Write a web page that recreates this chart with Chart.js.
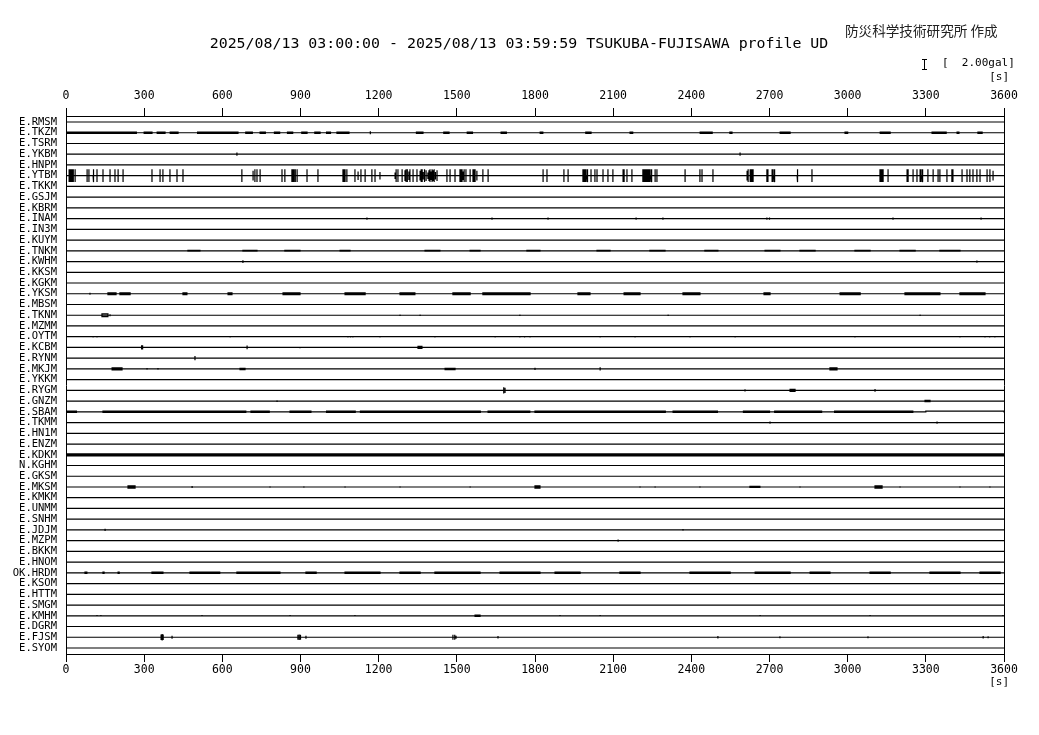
<!DOCTYPE html>
<html>
<head>
<meta charset="utf-8">
<script src="https://cdn.jsdelivr.net/npm/chart.js@4.4.1/dist/chart.umd.min.js"></script>
<style>
html, body { margin: 0; padding: 0; background: #fff; }
</style>
</head>
<body>
<canvas id="chart" width="1039" height="735"></canvas>
<script>
// station order, top to bottom
const stations = [
    "E.RMSM", "E.TKZM", "E.TSRM", "E.YKBM", "E.HNPM", "E.YTBM", "E.TKKM", "E.GSJM", "E.KBRM", "E.INAM",
    "E.IN3M", "E.KUYM", "E.TNKM", "E.KWHM", "E.KKSM", "E.KGKM", "E.YKSM", "E.MBSM", "E.TKNM", "E.MZMM",
    "E.OYTM", "E.KCBM", "E.RYNM", "E.MKJM", "E.YKKM", "E.RYGM", "E.GNZM", "E.SBAM", "E.TKMM", "E.HN1M",
    "E.ENZM", "E.KDKM", "N.KGHM", "E.GKSM", "E.MKSM", "E.KMKM", "E.UNMM", "E.SNHM", "E.JDJM", "E.MZPM",
    "E.BKKM", "E.HNOM", "OK.HRDM", "E.KSOM", "E.HTTM", "E.SMGM", "E.KMHM", "E.DGRM", "E.FJSM", "E.SYOM",
];

const timeRange = [0, 3600];
const timeTicks = [0, 300, 600, 900, 1200, 1500, 1800, 2100, 2400, 2700, 3000, 3300, 3600];
const scaleGal = 2.0;

// E.YTBM clipped wave packets: [time s, amplitude gal]
const ytbmSpikes = [
    [12, 1.2], [16, 1.2], [20, 1.2], [24, 1.2], [28, 1.2], [35, 1.2],
    [81, 1.2], [88, 1.2], [104, 1.2], [107, 1.2], [119, 1.2], [142, 1.2], [169, 1.2], [188, 1.2], [200, 1.2], [219, 1.2],
    [330, 1.2], [361, 1.2], [372, 1.2], [399, 1.2], [426, 1.2], [449, 1.2],
    [675, 1.2], [718, 0.9], [725, 1.2], [733, 1.2], [745, 1.2], [829, 1.2], [840, 1.2],
    [867, 1.2], [871, 1.2], [875, 1.2], [880, 1.2], [887, 1.2], [925, 1.2], [967, 1.2],
    [1063, 1.2], [1067, 1.2], [1071, 1.2], [1078, 1.2], [1109, 1.2], [1121, 0.8], [1132, 1.2], [1148, 1.2],
    [1174, 1.2], [1186, 1.2], [1205, 0.7],
    [1263, 0.6], [1267, 1.2], [1274, 1.2], [1290, 1.2], [1301, 1.0], [1305, 1.2], [1310, 1.2], [1316, 0.8],
    [1320, 1.2], [1332, 1.2], [1347, 1.2], [1359, 0.9], [1363, 1.2], [1367, 1.2], [1371, 0.7], [1376, 1.2],
    [1382, 1.0], [1389, 0.6], [1393, 1.0], [1397, 1.2], [1401, 0.8], [1405, 1.2], [1409, 1.0], [1413, 1.2],
    [1418, 0.7], [1424, 1.0],
    [1462, 1.2], [1474, 1.2], [1493, 1.2], [1512, 1.2], [1516, 1.2], [1520, 1.2], [1524, 0.8], [1528, 1.2],
    [1535, 1.2], [1551, 1.2], [1562, 1.2], [1566, 1.2], [1570, 1.2], [1577, 0.9], [1600, 1.2], [1620, 1.2],
    [1831, 1.2], [1846, 1.2], [1911, 1.2], [1927, 1.2],
    [1984, 1.2], [1988, 1.2], [1992, 1.2], [1996, 1.2], [2000, 1.2], [2003, 1.2],
    [2015, 1.2], [2030, 1.2], [2038, 1.2], [2061, 1.2], [2080, 1.2], [2099, 1.2],
    [2138, 1.2], [2142, 1.2], [2153, 1.2], [2172, 1.2],
    [2214, 1.2], [2218, 1.2], [2222, 1.2], [2226, 1.2], [2230, 1.2], [2234, 1.2], [2238, 1.2], [2242, 1.2],
    [2246, 1.2], [2249, 1.2], [2261, 1.2], [2268, 1.2],
    [2376, 1.2], [2433, 1.2], [2441, 1.2], [2483, 1.2],
    [2614, 0.9], [2618, 1.2], [2626, 1.2], [2630, 1.2], [2634, 1.2], [2637, 1.2],
    [2690, 1.2], [2694, 1.2], [2710, 1.2], [2714, 1.2], [2718, 1.2], [2721, 1.2],
    [2806, 1.2], [2809, 1.2], [2863, 1.2],
    [3124, 1.2], [3128, 1.2], [3132, 1.2], [3136, 1.2], [3155, 1.2],
    [3228, 1.2], [3232, 1.2], [3251, 1.2], [3266, 1.2], [3278, 1.2], [3282, 1.2], [3286, 1.2], [3289, 1.2],
    [3308, 1.2], [3328, 1.2], [3347, 1.2], [3354, 1.2], [3381, 1.2], [3400, 1.2], [3404, 1.2],
    [3439, 1.2], [3458, 1.2], [3469, 1.2], [3481, 1.2], [3496, 1.2], [3508, 1.2], [3535, 1.2], [3546, 1.2], [3558, 0.9],
];

// single short pulses on other stations: [station, time s, amplitude gal]
const pulses = [
    ["E.TKZM", 1168, 0.3],
    ["E.YKBM", 656, 0.3], ["E.YKBM", 2587, 0.3],
    ["E.INAM", 1155, 0.2], ["E.INAM", 1635, 0.2], ["E.INAM", 1850, 0.2], ["E.INAM", 2188, 0.2], ["E.INAM", 2291, 0.2],
    ["E.INAM", 2690, 0.2], ["E.INAM", 2700, 0.2], ["E.INAM", 3174, 0.2], ["E.INAM", 3512, 0.2],
    ["E.KWHM", 679, 0.25], ["E.KWHM", 3496, 0.2],
    ["E.YKSM", 92, 0.2],
    ["E.TKNM", 169, 0.2], ["E.TKNM", 1282, 0.15], ["E.TKNM", 1359, 0.15], ["E.TKNM", 1742, 0.15],
    ["E.TKNM", 2311, 0.15], ["E.TKNM", 3278, 0.15],
    ["E.OYTM", 104, 0.15], ["E.OYTM", 119, 0.15], ["E.OYTM", 630, 0.15], ["E.OYTM", 1082, 0.15], ["E.OYTM", 1092, 0.15],
    ["E.OYTM", 1101, 0.15], ["E.OYTM", 1205, 0.15], ["E.OYTM", 1416, 0.15], ["E.OYTM", 1647, 0.15], ["E.OYTM", 1742, 0.15],
    ["E.OYTM", 1760, 0.15], ["E.OYTM", 1781, 0.15], ["E.OYTM", 2050, 0.15], ["E.OYTM", 2184, 0.15], ["E.OYTM", 2395, 0.15],
    ["E.OYTM", 2568, 0.15], ["E.OYTM", 3028, 0.15], ["E.OYTM", 3431, 0.15], ["E.OYTM", 3527, 0.15], ["E.OYTM", 3545, 0.15],
    ["E.OYTM", 3565, 0.15],
    ["E.KCBM", 290, 0.4], ["E.KCBM", 294, 0.4], ["E.KCBM", 695, 0.35], ["E.KCBM", 898, 0.15], ["E.KCBM", 1524, 0.12],
    ["E.KCBM", 1838, 0.12], ["E.KCBM", 2050, 0.12], ["E.KCBM", 2433, 0.12], ["E.KCBM", 2836, 0.12], ["E.KCBM", 3009, 0.12],
    ["E.RYNM", 495, 0.4], ["E.RYNM", 975, 0.12], ["E.RYNM", 1524, 0.12], ["E.RYNM", 2050, 0.12], ["E.RYNM", 2422, 0.12],
    ["E.MKJM", 311, 0.15], ["E.MKJM", 353, 0.15], ["E.MKJM", 898, 0.12], ["E.MKJM", 917, 0.12], ["E.MKJM", 1052, 0.12],
    ["E.MKJM", 1359, 0.12], ["E.MKJM", 1551, 0.12], ["E.MKJM", 1800, 0.2], ["E.MKJM", 2050, 0.3], ["E.MKJM", 2433, 0.12],
    ["E.MKJM", 2625, 0.12], ["E.MKJM", 2740, 0.12], ["E.MKJM", 3163, 0.12], ["E.MKJM", 3393, 0.12], ["E.MKJM", 3546, 0.12],
    ["E.RYGM", 1680, 0.6], ["E.RYGM", 1685, 0.5], ["E.RYGM", 2606, 0.2], ["E.RYGM", 3105, 0.25],
    ["E.GNZM", 810, 0.15],
    ["E.TKMM", 2702, 0.2], ["E.TKMM", 3343, 0.2],
    ["E.MKSM", 484, 0.2], ["E.MKSM", 783, 0.15], ["E.MKSM", 913, 0.15], ["E.MKSM", 1071, 0.15], ["E.MKSM", 1282, 0.15],
    ["E.MKSM", 1551, 0.15], ["E.MKSM", 2203, 0.15], ["E.MKSM", 2261, 0.15], ["E.MKSM", 2433, 0.15], ["E.MKSM", 2817, 0.15],
    ["E.MKSM", 3201, 0.15], ["E.MKSM", 3431, 0.15], ["E.MKSM", 3546, 0.15],
    ["E.JDJM", 150, 0.2], ["E.JDJM", 2368, 0.15],
    ["E.MZPM", 2119, 0.2],
    ["E.HNOM", 1052, 0.12],
    ["E.KMHM", 119, 0.15], ["E.KMHM", 134, 0.15], ["E.KMHM", 522, 0.15], ["E.KMHM", 860, 0.15], ["E.KMHM", 1109, 0.15],
    ["E.KMHM", 1896, 0.15], ["E.KMHM", 2050, 0.15], ["E.KMHM", 2664, 0.15], ["E.KMHM", 3086, 0.15], ["E.KMHM", 3596, 0.15],
    ["E.FJSM", 365, 0.5], ["E.FJSM", 369, 0.6], ["E.FJSM", 373, 0.5], ["E.FJSM", 407, 0.3],
    ["E.FJSM", 890, 0.45], ["E.FJSM", 895, 0.5], ["E.FJSM", 900, 0.45], ["E.FJSM", 921, 0.3],
    ["E.FJSM", 1485, 0.45], ["E.FJSM", 1492, 0.45], ["E.FJSM", 1497, 0.3], ["E.FJSM", 1658, 0.25],
    ["E.FJSM", 2502, 0.25], ["E.FJSM", 2740, 0.2], ["E.FJSM", 3078, 0.2], ["E.FJSM", 3520, 0.25], ["E.FJSM", 3539, 0.2],
];

// stretches of continuous small noise: [station, start s, end s, amplitude gal]
const noise = [
    ["E.TKZM", 0, 270, 0.12], ["E.TKZM", 300, 330, 0.12], ["E.TKZM", 350, 380, 0.12], ["E.TKZM", 400, 430, 0.12],
    ["E.TKZM", 505, 660, 0.12], ["E.TKZM", 690, 715, 0.12], ["E.TKZM", 745, 765, 0.12], ["E.TKZM", 800, 820, 0.12],
    ["E.TKZM", 850, 870, 0.12], ["E.TKZM", 905, 925, 0.12], ["E.TKZM", 955, 975, 0.12], ["E.TKZM", 1000, 1015, 0.12],
    ["E.TKZM", 1040, 1086, 0.12], ["E.TKZM", 1345, 1370, 0.12], ["E.TKZM", 1450, 1470, 0.12], ["E.TKZM", 1540, 1560, 0.12],
    ["E.TKZM", 1670, 1690, 0.12], ["E.TKZM", 1820, 1830, 0.12], ["E.TKZM", 1995, 2015, 0.12], ["E.TKZM", 2165, 2175, 0.12],
    ["E.TKZM", 2434, 2480, 0.12], ["E.TKZM", 2548, 2556, 0.12], ["E.TKZM", 2741, 2779, 0.12], ["E.TKZM", 2990, 3000, 0.12],
    ["E.TKZM", 3125, 3163, 0.12], ["E.TKZM", 3324, 3378, 0.12], ["E.TKZM", 3420, 3427, 0.12], ["E.TKZM", 3500, 3516, 0.12],
    ["E.TNKM", 468, 514, 0.08], ["E.TNKM", 679, 733, 0.08], ["E.TNKM", 840, 898, 0.08], ["E.TNKM", 1052, 1090, 0.08],
    ["E.TNKM", 1378, 1435, 0.08], ["E.TNKM", 1551, 1589, 0.08], ["E.TNKM", 1769, 1819, 0.08], ["E.TNKM", 2038, 2088, 0.08],
    ["E.TNKM", 2241, 2299, 0.08], ["E.TNKM", 2452, 2502, 0.08], ["E.TNKM", 2683, 2740, 0.08], ["E.TNKM", 2817, 2875, 0.08],
    ["E.TNKM", 3028, 3086, 0.08], ["E.TNKM", 3201, 3259, 0.08], ["E.TNKM", 3354, 3431, 0.08],
    ["E.YKSM", 161, 192, 0.15], ["E.YKSM", 207, 246, 0.15], ["E.YKSM", 449, 464, 0.15], ["E.YKSM", 622, 637, 0.15],
    ["E.YKSM", 833, 898, 0.15], ["E.YKSM", 1071, 1148, 0.15], ["E.YKSM", 1282, 1339, 0.15], ["E.YKSM", 1485, 1551, 0.15],
    ["E.YKSM", 1600, 1781, 0.15], ["E.YKSM", 1965, 2011, 0.15], ["E.YKSM", 2142, 2203, 0.15], ["E.YKSM", 2368, 2433, 0.15],
    ["E.YKSM", 2679, 2702, 0.15], ["E.YKSM", 2971, 3048, 0.15], ["E.YKSM", 3220, 3354, 0.15], ["E.YKSM", 3431, 3527, 0.15],
    ["E.TKNM", 138, 161, 0.25],
    ["E.KCBM", 1351, 1366, 0.2],
    ["E.MKJM", 177, 215, 0.2], ["E.MKJM", 668, 687, 0.12], ["E.MKJM", 1455, 1493, 0.12], ["E.MKJM", 2932, 2959, 0.2],
    ["E.RYGM", 2779, 2798, 0.2],
    ["E.GNZM", 3297, 3316, 0.12],
    ["E.SBAM", 0, 40, 0.12], ["E.SBAM", 142, 690, 0.12], ["E.SBAM", 710, 780, 0.12], ["E.SBAM", 860, 940, 0.12],
    ["E.SBAM", 1000, 1110, 0.12], ["E.SBAM", 1130, 1590, 0.12], ["E.SBAM", 1620, 1780, 0.12], ["E.SBAM", 1800, 2300, 0.12],
    ["E.SBAM", 2330, 2500, 0.12], ["E.SBAM", 2600, 2700, 0.12], ["E.SBAM", 2720, 2900, 0.12], ["E.SBAM", 2950, 3250, 0.12],
    ["E.SBAM", 3300, 3600, 0.12],
    ["E.KDKM", 0, 3600, 0.19],
    ["E.MKSM", 238, 265, 0.2], ["E.MKSM", 1800, 1819, 0.2], ["E.MKSM", 2625, 2663, 0.1], ["E.MKSM", 3105, 3132, 0.2],
    ["OK.HRDM", 73, 80, 0.12], ["OK.HRDM", 142, 146, 0.12], ["OK.HRDM", 200, 204, 0.12], ["OK.HRDM", 330, 372, 0.12],
    ["OK.HRDM", 476, 590, 0.12], ["OK.HRDM", 656, 821, 0.12], ["OK.HRDM", 921, 960, 0.12], ["OK.HRDM", 1071, 1205, 0.12],
    ["OK.HRDM", 1282, 1359, 0.12], ["OK.HRDM", 1416, 1589, 0.12], ["OK.HRDM", 1666, 1819, 0.12], ["OK.HRDM", 1877, 1973, 0.12],
    ["OK.HRDM", 2126, 2203, 0.12], ["OK.HRDM", 2395, 2549, 0.12], ["OK.HRDM", 2645, 2779, 0.12], ["OK.HRDM", 2856, 2932, 0.12],
    ["OK.HRDM", 3086, 3163, 0.12], ["OK.HRDM", 3316, 3431, 0.12], ["OK.HRDM", 3508, 3585, 0.12],
    ["E.KMHM", 1570, 1589, 0.12],
];

const MONO = '"DejaVu Sans Mono", "Liberation Mono", monospace';

// one trace per station; the row index is the baseline, gal is scaled so scaleGal == one row
function buildTrace(name, row) {
    const events = [];
    pulses.filter(p => p[0] === name).forEach(p => events.push([p[1], p[1], p[2]]));
    noise.filter(n => n[0] === name).forEach(n => events.push([n[1], n[2], n[3]]));
    if(name === "E.YTBM") {
        ytbmSpikes.forEach(s => events.push([s[0], s[0], s[1]]));
    }
    events.sort((a, b) => a[0] - b[0]);

    const off = g => g / scaleGal;
    const pts = [{ x: timeRange[0], y: row }];
    for(let i = 0; i < events.length; i++) {
        const [t0, t1, a] = events[i];
        pts.push(
            { x: t0, y: row },
            { x: t0, y: row - off(a) },
            { x: t1, y: row - off(a) },
            { x: t1, y: row + off(a) },
            { x: t0, y: row + off(a) },
            { x: t0, y: row },
        );
    }
    pts.push({ x: timeRange[1], y: row });
    return pts;
}

const datasets = stations.map((name, i) => ({
    label: name,
    data: buildTrace(name, i),
    borderColor: "#000",
    borderWidth: 1.2,
    pointRadius: 0,
    tension: 0,
    fill: false,
}));

const header = {
    id: "header",
    afterDraw(chart) {
        const { ctx } = chart;
        ctx.save();

        ctx.font = "13.6px \"Noto Sans CJK JP\"";
        ctx.textAlign = "left";
        ctx.textBaseline = "middle";
        ctx.fillStyle = "#222";
        ctx.fillText("防災科学技術研究所 作成", 845, 31);

        ctx.fillStyle = "#000";
        ctx.font = "14.9px " + MONO;
        ctx.textAlign = "center";
        ctx.fillText("2025/08/13 03:00:00 - 2025/08/13 03:59:59 TSUKUBA-FUJISAWA profile UD", 519, 44);

        // amplitude scale bar
        ctx.strokeStyle = "#000";
        ctx.lineWidth = 1;
        ctx.beginPath();
        ctx.moveTo(924.5, 59); ctx.lineTo(924.5, 70);
        ctx.moveTo(922, 59.5); ctx.lineTo(927, 59.5);
        ctx.moveTo(922, 69.5); ctx.lineTo(927, 69.5);
        ctx.stroke();

        ctx.font = "11px " + MONO;
        ctx.textAlign = "left";
        ctx.fillText("[  2.00gal]", 942, 63);
        ctx.textAlign = "right";
        ctx.fillText("[s]", 1009, 77);
        ctx.fillText("[s]", 1009, 682);
        ctx.restore();
    },
};

function timeAxis(position, size, pad) {
    return {
        type: "linear",
        position,
        min: timeRange[0],
        max: timeRange[1],
        afterBuildTicks: scale => { scale.ticks = timeTicks.map(v => ({ value: v })); },
        afterFit: scale => { scale.height = size; },
        ticks: {
            autoSkip: false,
            maxRotation: 0,
            padding: pad,
            color: "#000",
            font: { family: MONO, size: 11.5 },
            callback: v => String(v),
        },
        grid: { drawOnChartArea: false, drawTicks: true, tickLength: 8, color: "#000", lineWidth: 1 },
        border: { display: true, color: "#000", width: 1 },
    };
}

const rowMin = -0.56;
const rowMax = stations.length - 1 + 0.56;

new Chart(document.getElementById("chart"), {
    type: "line",
    data: { datasets },
    options: {
        responsive: false,
        devicePixelRatio: 1,
        animation: false,
        parsing: false,
        normalized: true,
        layout: { padding: 0 },
        plugins: { legend: { display: false }, tooltip: { enabled: false }, title: { display: false } },
        scales: {
            x: timeAxis("bottom", 81, 1),
            xTop: timeAxis("top", 116, 5),
            y: {
                type: "linear",
                min: rowMin,
                max: rowMax,
                reverse: true,
                afterBuildTicks: scale => { scale.ticks = stations.map((_, i) => ({ value: i })); },
                afterFit: scale => { scale.width = 66; },
                ticks: {
                    autoSkip: false,
                    padding: 9,
                    color: "#000",
                    font: { family: MONO, size: 10.5 },
                    callback: v => stations[v],
                },
                grid: { display: false, drawTicks: false },
                border: { display: true, color: "#000", width: 1 },
            },
            yRight: {
                type: "linear",
                position: "right",
                min: rowMin,
                max: rowMax,
                afterFit: scale => { scale.width = 35; },
                ticks: { display: false },
                grid: { display: false, drawTicks: false },
                border: { display: true, color: "#000", width: 1 },
            },
        },
    },
    plugins: [header],
});
</script>
</body>
</html>
